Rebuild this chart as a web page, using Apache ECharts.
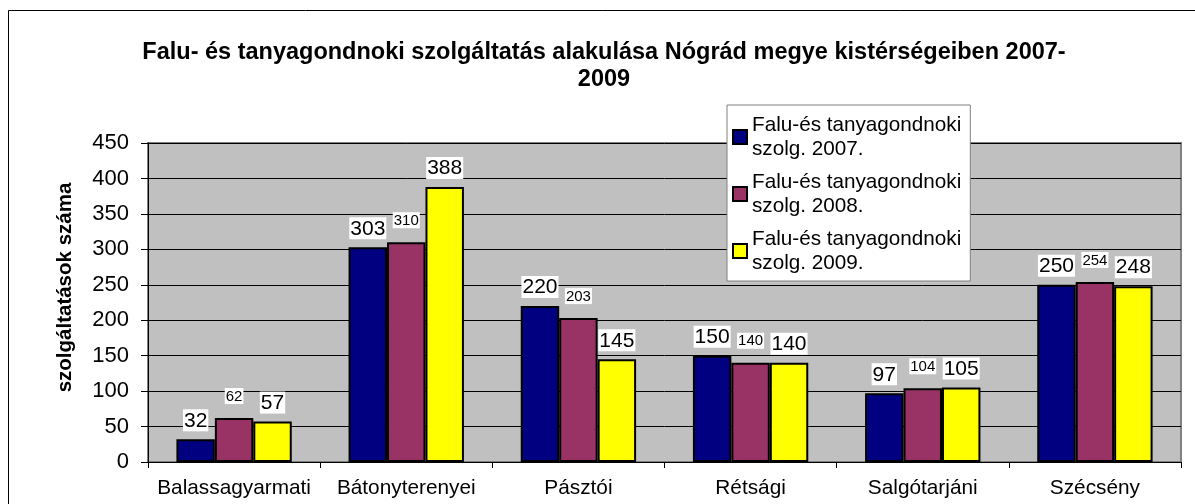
<!doctype html>
<html>
    <head>
        <meta charset="utf-8">
        <title>Falu- és tanyagondnoki szolgáltatás</title>
        <style>
            html, body { margin: 0; padding: 0; background: #fff; }
            #main { width: 1195px; height: 504px; }
        </style>
    </head>
    <body>
        <div id="main"></div>
        <script src="https://cdn.jsdelivr.net/npm/echarts@6/dist/echarts.min.js"></script>
        <script>
            var categories = ['Balassagyarmati', 'Bátonyterenyei', 'Pásztói', 'Rétsági', 'Salgótarjáni', 'Szécsény'];
            var seriesNames = [
                'Falu-és tanyagondnoki\nszolg. 2007.',
                'Falu-és tanyagondnoki\nszolg. 2008.',
                'Falu-és tanyagondnoki\nszolg. 2009.'
            ];
            var values2007 = [32, 303, 220, 150, 97, 250];
            var values2008 = [62, 310, 203, 140, 104, 254];
            var values2009 = [57, 388, 145, 140, 105, 248];
            var colors = ['#000080', '#993366', '#ffff00'];

            var chart = echarts.init(document.getElementById('main'));
            var font = 'Liberation Sans, Arial, sans-serif';

            function bar(i, data, small) {
                return {
                    name: seriesNames[i],
                    type: 'bar',
                    data: data,
                    barGap: '0%',
                    barCategoryGap: '33%',
                    itemStyle: {
                        color: colors[i],
                        borderColor: '#000',
                        borderWidth: 2
                    },
                    label: {
                        show: true,
                        position: 'top',
                        distance: small ? 14 : 8,
                        color: '#000',
                        fontFamily: font,
                        fontSize: small ? 15 : 21,
                        backgroundColor: '#fff',
                        padding: [1, 1, 0, 1]
                    }
                };
            }

            chart.setOption({
                backgroundColor: '#fff',
                animation: false,
                textStyle: { fontFamily: font },
                graphic: [{
                    type: 'rect',
                    shape: { x: 8.5, y: 10.5, width: 1300, height: 600 },
                    style: { fill: 'none', stroke: '#000', lineWidth: 1 },
                    silent: true
                }],
                title: {
                    text: 'Falu- és tanyagondnoki szolgáltatás alakulása Nógrád megye kistérségeiben 2007-\n2009',
                    left: 599,
                    top: 34,
                    textAlign: 'center',
                    textStyle: {
                        fontFamily: font,
                        fontSize: 23.5,
                        fontWeight: 'bold',
                        color: '#000',
                        lineHeight: 27,
                        align: 'center'
                    }
                },
                legend: {
                    orient: 'vertical',
                    left: 727,
                    top: 105,
                    padding: [8, 9, 6, 5],
                    itemGap: 9,
                    itemWidth: 14,
                    itemHeight: 14,
                    icon: 'rect',
                    backgroundColor: '#fff',
                    borderColor: '#808080',
                    borderWidth: 1,
                    textStyle: {
                        fontFamily: font,
                        fontSize: 20.7,
                        lineHeight: 24,
                        color: '#000'
                    },
                    data: seriesNames
                },
                grid: {
                    left: 148,
                    right: 14,
                    top: 143,
                    bottom: 42,
                    show: true,
                    backgroundColor: '#c0c0c0',
                    borderColor: '#808080',
                    borderWidth: 2
                },
                xAxis: {
                    type: 'category',
                    data: categories,
                    axisLine: { lineStyle: { color: '#000', width: 1 } },
                    axisTick: { show: true, length: 6, lineStyle: { color: '#000' } },
                    axisLabel: {
                        interval: 0,
                        color: '#000',
                        fontFamily: font,
                        fontSize: 20.8,
                        margin: 16
                    }
                },
                yAxis: {
                    type: 'value',
                    min: 0,
                    max: 450,
                    interval: 50,
                    name: 'szolgáltatások száma',
                    nameLocation: 'middle',
                    nameGap: 72,
                    nameTextStyle: {
                        fontFamily: font,
                        fontSize: 20.5,
                        fontWeight: 'bold',
                        color: '#000',
                        padding: [0, 0, 0, 30]
                    },
                    axisLine: { show: true, lineStyle: { color: '#000', width: 1 } },
                    axisTick: { show: true, length: 7, lineStyle: { color: '#000' } },
                    axisLabel: {
                        color: '#000',
                        fontFamily: font,
                        fontSize: 22,
                        margin: 19
                    },
                    splitLine: { lineStyle: { color: '#000', width: 1 } }
                },
                series: [
                    bar(0, values2007, false),
                    bar(1, values2008, true),
                    bar(2, values2009, false)
                ]
            });

            window.onresize = chart.resize;
        </script>
    </body>
</html>
